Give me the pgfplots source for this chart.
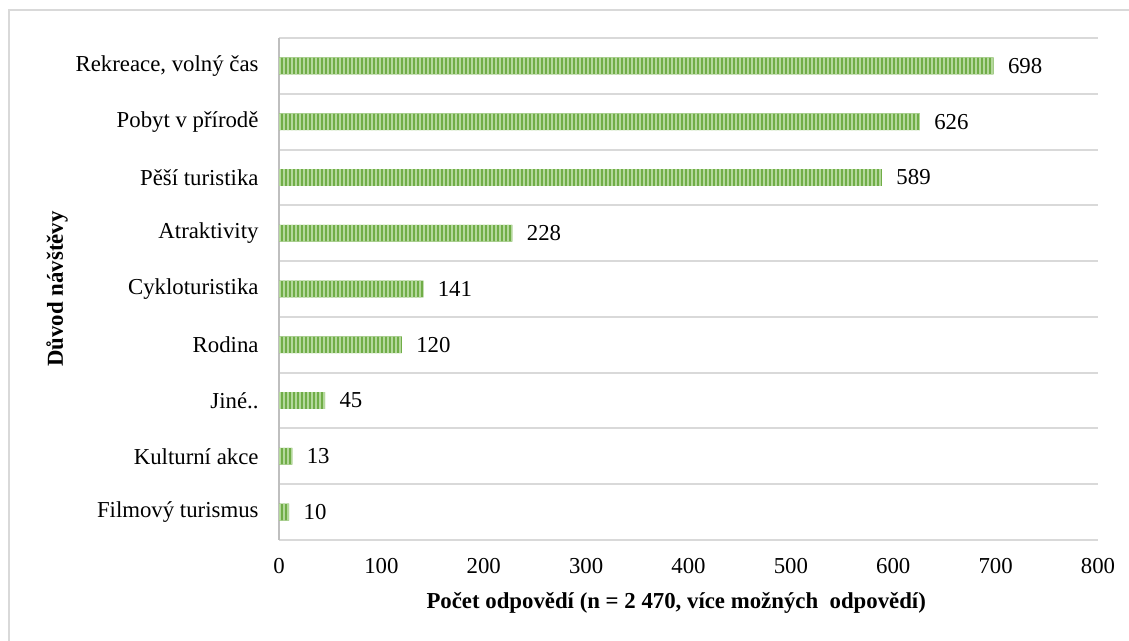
\documentclass[border=0pt]{standalone}
\usepackage{fontspec}
\setmainfont{Liberation Serif}
\usepackage{pgfplots}
\usepackage{pgfplotstable}
\pgfplotsset{compat=1.18}
\usetikzlibrary{patterns.meta}

\definecolor{bardark}{HTML}{70AD47}
\definecolor{barlight}{HTML}{B4D89C}
\definecolor{gridgray}{HTML}{D9D9D9}
\definecolor{axisgray}{HTML}{BFBFBF}

% Reasons for the visit, bottom to top
\pgfplotstableread{
idx value
0   10
1   13
2   45
3   120
4   141
5   228
6   589
7   626
8   698
}\reasons

\newcommand{\chartfont}{\fontsize{11.4}{13.5}\selectfont}

\begin{document}
\begin{tikzpicture}[x=1pt,y=1pt]
\useasboundingbox (0,0) rectangle (564.5,320.5);
% outer frame
\draw[gridgray, line width=0.75pt] (4.5,-2) -- (4.5,315.5) -- (570,315.5);
\begin{axis}[
  at={(139.5pt,50.5pt)}, anchor=south west,
  scale only axis, width=409.5pt, height=251pt,
  xbar, bar width=8.4pt,
  xmin=0, xmax=800, ymin=-0.5, ymax=8.5,
  xtick={0,100,...,800},
  ytick={0,...,8},
  yticklabels={Filmový turismus, Kulturní akce, Jiné.., Rodina, Cykloturistika,
    Atraktivity, Pěší turistika, Pobyt v přírodě, {Rekreace, volný čas}},
  minor ytick={-0.5,0.5,...,8.5},
  yminorgrids, ymajorgrids=false, xmajorgrids=false,
  minor grid style={gridgray, line width=1pt},
  separate axis lines,
  axis x line*=bottom, axis y line*=left,
  x axis line style={draw=none},
  y axis line style={axisgray, line width=1.4pt},
  major tick length=0pt, minor tick length=0pt,
  tick label style={font=\chartfont},
  yticklabel style={xshift=-6.7pt},
  xticklabel style={yshift=-5.4pt},
  /pgf/number format/assume math mode=true,
  xlabel={Počet odpovědí (n = 2 470, více možných\ \ odpovědí)},
  ylabel={Důvod návštěvy},
  xlabel style={at={(axis description cs:0.485,-0.1255)}, anchor=center, font=\bfseries\chartfont},
  ylabel style={at={(axis description cs:-0.271,0.5)}, anchor=center, font=\bfseries\chartfont},
  nodes near coords,
  every node near coord/.append style={font=\chartfont, xshift=3.7pt, text=black},
]
\addplot[draw=none, fill=bardark,
  postaction={pattern={Lines[angle=90, distance=2pt, line width=0.95pt]}, pattern color=barlight}]
  table[x=value, y=idx] {\reasons};
\end{axis}
\end{tikzpicture}
\end{document}
